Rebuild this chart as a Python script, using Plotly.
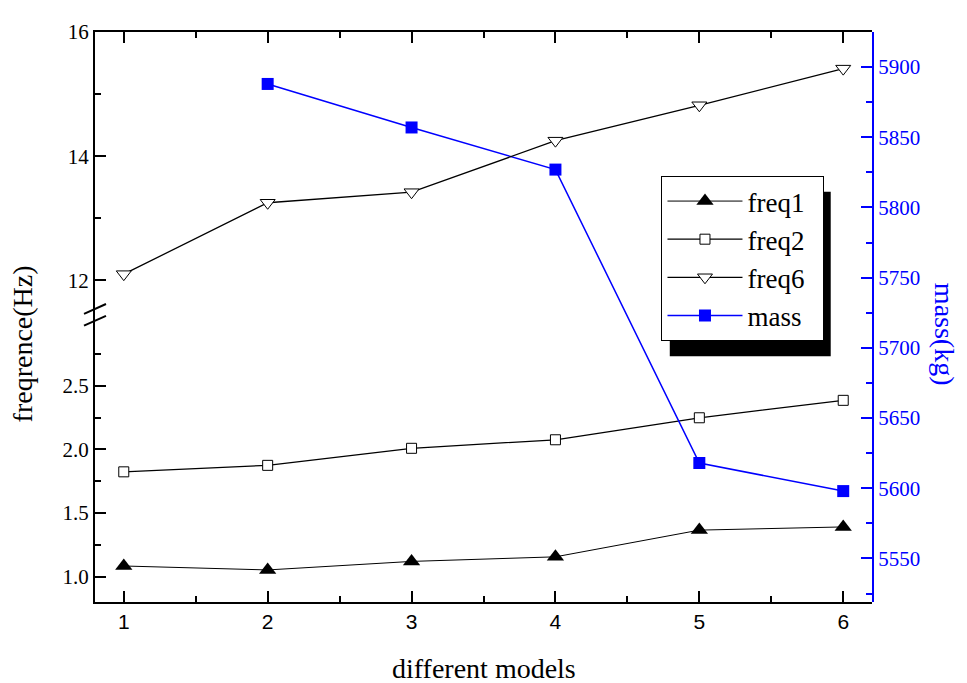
import plotly.graph_objects as go

models = [1, 2, 3, 4, 5, 6]
freq1 = [1.083, 1.052, 1.119, 1.155, 1.365, 1.39]
freq2 = [1.823, 1.874, 2.008, 2.075, 2.248, 2.385]
freq6 = [12.10, 13.25, 13.42, 14.25, 14.82, 15.41]
mass = [None, 5888, 5857, 5827, 5618, 5598]

SERIF = "Liberation Serif, Times New Roman, serif"
NARROW = "Liberation Sans Narrow, Arial Narrow, Liberation Sans, Arial, sans-serif"
BLUE = "#0000ff"

# page body has an 8px margin: figure occupies the window from (8, 8)
OFF = 8
WIN_W, WIN_H = 967, 683
W, H = WIN_W - OFF, WIN_H - OFF

# plot frame in window pixels (for decorations only)
L, R, T, B = 95, 872.3, 22.7, 601.7


def px(x):
    return (x - L) / (R - L)


def py(y):
    return (B - y) / (B - T)


PAD = "\u00a0\u00a0"

fig = go.Figure()

fig.add_trace(go.Scatter(
    x=models, y=freq1, name="freq1" + PAD, xaxis="x", yaxis="y2", legendgroup="a",
    mode="lines+markers", line=dict(color="black", width=1),
    marker=dict(symbol="triangle-up", size=15, color="black", line=dict(width=0))))
fig.add_trace(go.Scatter(
    x=models, y=freq2, name="freq2" + PAD, xaxis="x", yaxis="y2", legendgroup="b",
    mode="lines+markers", line=dict(color="black", width=1.3),
    marker=dict(symbol="square", size=10, color="white", line=dict(color="black", width=1))))
fig.add_trace(go.Scatter(
    x=models, y=freq6, name="freq6" + PAD, xaxis="x2", yaxis="y", legendgroup="c",
    mode="lines+markers", line=dict(color="black", width=1.3),
    marker=dict(symbol="triangle-down", size=13, color="white", line=dict(color="black", width=1))))
fig.add_trace(go.Scatter(
    x=models, y=mass, name="mass" + PAD, xaxis="x", yaxis="y3", legendgroup="d",
    mode="lines+markers", line=dict(color=BLUE, width=1.5),
    marker=dict(symbol="square", size=12, color=BLUE, line=dict(width=0))))

tickfont = dict(family=SERIF, size=21, color="black")

fig.update_layout(
    width=W, height=H,
    margin=dict(l=L - OFF, r=WIN_W - R, t=T - OFF, b=WIN_H - B),
    paper_bgcolor="white", plot_bgcolor="rgba(0,0,0,0)",
    showlegend=True,
    xaxis=dict(domain=[0, 1], range=[0.8, 6.2], anchor="y2",
               tickvals=models, ticks="inside", ticklen=11, tickwidth=1.5, tickcolor="black",
               minor=dict(dtick=0.5, tick0=0.5, ticks="inside", ticklen=6, tickwidth=1.5, tickcolor="black"),
               showline=True, linecolor="black", linewidth=2, showgrid=False, zeroline=False,
               tickfont=dict(family=NARROW, size=21, color="black")),
    xaxis2=dict(domain=[0, 1], range=[0.8, 6.2], anchor="y", side="top", matches="x",
                tickvals=models, ticks="inside", ticklen=11, tickwidth=1.5, tickcolor="black",
                minor=dict(dtick=0.5, tick0=0.5, ticks="inside", ticklen=6, tickwidth=1.5, tickcolor="black"),
                showline=True, linecolor="black", linewidth=2, showgrid=False, zeroline=False,
                showticklabels=False),
    yaxis=dict(domain=[0.5, 1], range=[11.41, 16], anchor="x2",
               tickvals=[12, 14, 16], ticks="inside", ticklen=11, tickwidth=1.5, tickcolor="black",
               minor=dict(tickvals=[13, 15], ticks="inside", ticklen=6, tickwidth=1.5, tickcolor="black"),
               showline=True, linecolor="black", linewidth=2, showgrid=False, zeroline=False,
               tickfont=tickfont),
    yaxis2=dict(domain=[0, 0.5], range=[0.8, 3.04], anchor="x",
                tickvals=[1.0, 1.5, 2.0, 2.5], tickformat=".1f", ticks="inside", ticklen=11,
                tickwidth=1.5, tickcolor="black",
                minor=dict(tickvals=[1.25, 1.75, 2.25, 2.75], ticks="inside", ticklen=6, tickwidth=1.5,
                           tickcolor="black"),
                showline=True, linecolor="black", linewidth=2, showgrid=False, zeroline=False,
                tickfont=tickfont),
    yaxis3=dict(domain=[0, 1], range=[5519, 5925], anchor="x", side="right",
                tick0=5550, dtick=50, ticks="inside", ticklen=11, tickwidth=1.5, tickcolor=BLUE,
                minor=dict(dtick=25, tick0=5525, ticks="inside", ticklen=6, tickwidth=1.5, tickcolor=BLUE),
                showline=True, linecolor=BLUE, linewidth=2, showgrid=False, zeroline=False,
                tickfont=dict(family=SERIF, size=21, color=BLUE)),
    legend=dict(x=px(661.7), y=py(169), xanchor="left", yanchor="top",
                bgcolor="white", bordercolor="black", borderwidth=1,
                font=dict(family=SERIF, size=27, color="black"),
                itemwidth=75, tracegroupgap=0, traceorder="grouped"),
)

# legend drop shadow
fig.add_shape(type="rect", xref="paper", yref="paper",
              x0=px(670), x1=px(831), y0=py(352), y1=py(185),
              fillcolor="black", line=dict(width=0), layer="above")

# axis break marks on the left axis
for y0 in (309, 321):
    fig.add_shape(type="line", xref="paper", yref="paper",
                  x0=px(84), x1=px(106), y0=py(y0), y1=py(y0 - 10),
                  line=dict(color="black", width=2), layer="above")

# axis titles
fig.add_annotation(text="different models", xref="paper", yref="paper",
                   x=0.5, y=py(669), xanchor="center", yanchor="middle",
                   showarrow=False, font=dict(family=SERIF, size=28, color="black"))
fig.add_annotation(text="freqrence(Hz)", xref="paper", yref="paper",
                   x=px(22), y=py(340), xanchor="center", yanchor="middle", textangle=-90,
                   showarrow=False, font=dict(family=SERIF, size=28, color="black"))
fig.add_annotation(text="mass(kg)", xref="paper", yref="paper",
                   x=px(945), y=py(330), xanchor="center", yanchor="middle", textangle=90,
                   showarrow=False, font=dict(family=SERIF, size=28, color=BLUE))

fig.write_html("out.html")
